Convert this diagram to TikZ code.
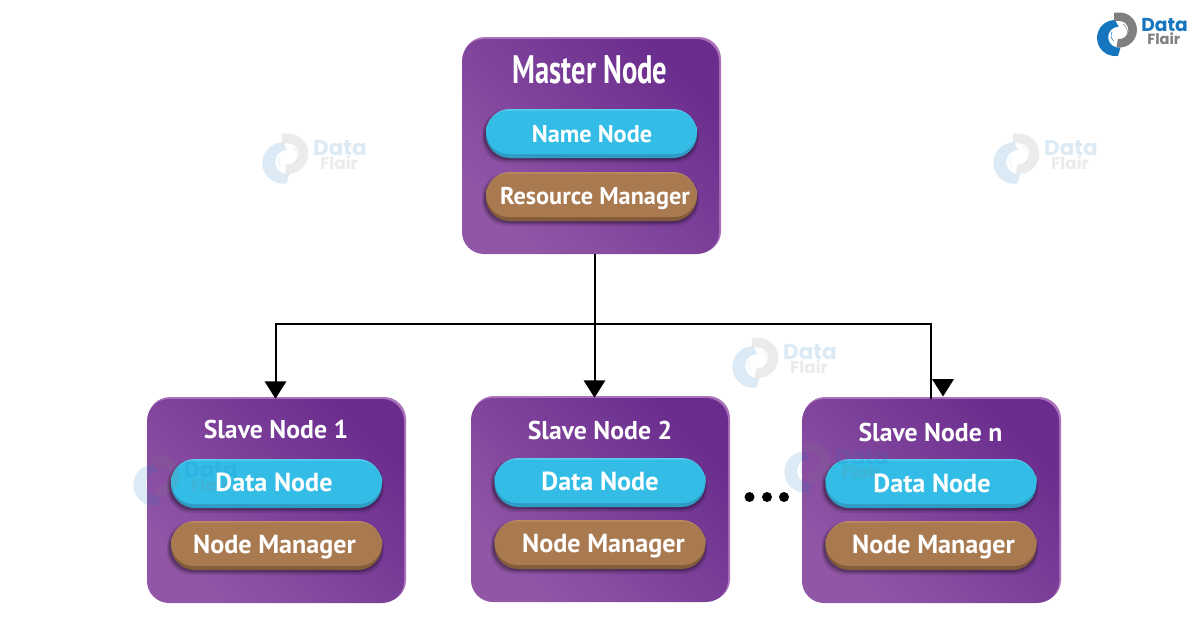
\documentclass[tikz,border=0pt]{standalone}
\usepackage{fontspec}
\setmainfont{PT Sans}
\newfontfamily\titlefont[FakeStretch=0.72]{PT Sans}
\newfontfamily\logofont{Poppins}
\usetikzlibrary{arrows.meta,shapes.misc}
\definecolor{boxlight}{HTML}{9256A7}
\definecolor{boxmid}{HTML}{773895}
\definecolor{boxdark}{HTML}{6A2D8E}
\definecolor{boxedge}{HTML}{AB72BB}
\definecolor{cyanmain}{HTML}{33BDE6}
\definecolor{cyantop}{HTML}{5ACDEE}
\definecolor{cyanbot}{HTML}{2F9CC4}
\definecolor{brownmain}{HTML}{A97950}
\definecolor{browntop}{HTML}{BC8B63}
\definecolor{brownbot}{HTML}{835C3B}
\definecolor{logoblue}{HTML}{1576BE}
\definecolor{logogrey}{HTML}{7F7F7F}
\tikzset{
  purplebox/.style={rounded corners=16.5pt,inner sep=0pt,shading=axis,bottom color=boxlight,middle color=boxmid,top color=boxdark,shading angle=-45},
  pilllabel/.style={inner sep=0pt,text=white,font=\bfseries\fontsize{19.6}{22}\selectfont},
  masterlabel/.style={inner sep=0pt,text=white,font=\bfseries\fontsize{18.2}{21}\selectfont},
  boxtitle/.style={inner sep=0pt,text=white,font=\bfseries\fontsize{19.3}{22}\selectfont},
  link/.style={draw=black,line width=1.5pt},
  linkhead/.style={link,-{Triangle[length=13pt,width=16pt]}},
  dotmark/.style={circle,fill=black,inner sep=0pt,minimum size=7.5pt},
  logo/.pic={
    \begin{scope}[x=0.75pt,y=0.75pt]
      \fill[logoblue] (0,18) arc[start angle=90,end angle=280,radius=18] -- (5.5,-9.5) arc[start angle=280,end angle=90,radius=10.5] -- cycle;
      \fill[logogrey] (-1,25.5) -- (4.5,25.5) arc[start angle=90,end angle=-100,radius=17.5] -- (2.94,-0.86) arc[start angle=-100,end angle=90,radius=9] -- (-1,17) -- cycle;
      \draw[logoblue,line width=0.4pt] (-3,6) arc[start angle=150,end angle=230,radius=7];
      \draw[logogrey,line width=0.4pt] (8,14) arc[start angle=60,end angle=-50,radius=9];
      \node[transform shape,anchor=base west,inner sep=0pt,text=logoblue,font=\logofont\bfseries\fontsize{14}{15}\selectfont] at (26,6.5) {Data};
      \node[transform shape,anchor=base west,inner sep=0pt,text=logogrey,font=\logofont\bfseries\fontsize{11}{12}\selectfont] at (32,-6) {Flair};
    \end{scope}
  },
}
\newcommand\boxback[4]{%
  \fill[boxedge,rounded corners=16.5pt] ({#1+1},#2) rectangle ++({#3-1},{#4-1});
}
\newcommand\pillback[5]{% x0,y0,main,top,bottom ; size 211x49
  \begin{scope}
    \fill[black,opacity=.10,rounded corners=18pt] ({#1-4},{#2+1}) rectangle ++(217,53);
    \fill[black,opacity=.14,rounded corners=18pt] ({#1-3},{#2+2}) rectangle ++(215,50);
    \fill[black,opacity=.18,rounded corners=18pt] ({#1-2},{#2+3}) rectangle ++(213,48);
    \fill[#5,rounded corners=18pt] (#1,{#2+1}) rectangle ++(211,48);
    \fill[#4,rounded corners=18pt] (#1,#2) rectangle ++(211,40);
    \fill[#3,rounded corners=17pt] (#1,{#2+1.5}) rectangle ++(211,43.5);
  \end{scope}
}
\begin{document}
\begin{tikzpicture}[x=0.75pt,y=-0.75pt]
\useasboundingbox (0,0) rectangle (1200,628);
\fill[white] (0,0) rectangle (1200,628);

% watermarks on paper
\begin{scope}[opacity=.15]
  \pic[scale=1.15] at (283,163) {logo};
  \pic[scale=1.15] at (1014,163) {logo};
  \pic[scale=1.15] at (753,367) {logo};
\end{scope}

% boxes
\boxback{462}{37}{259}{217}
\boxback{147}{397}{259}{206}
\boxback{471}{396}{259}{206}
\boxback{802}{397}{259}{206}
\node[purplebox,minimum width=192.75pt,minimum height=161.25pt] (master) at (590.5,146.5) {};
\node[purplebox,minimum width=192.75pt,minimum height=153pt] (slaveone) at (275.5,501) {};
\node[purplebox,minimum width=192.75pt,minimum height=153pt] (slavetwo) at (599.5,500) {};
\node[purplebox,minimum width=192.75pt,minimum height=153pt] (slaven) at (930.5,501) {};

% pills
\pillback{486}{109}{cyanmain}{cyantop}{cyanbot}
\pillback{486}{172}{brownmain}{browntop}{brownbot}
\pillback{171}{459}{cyanmain}{cyantop}{cyanbot}
\pillback{171}{521}{brownmain}{browntop}{brownbot}
\pillback{494.5}{458}{cyanmain}{cyantop}{cyanbot}
\pillback{494.5}{520}{brownmain}{browntop}{brownbot}
\pillback{825.5}{459}{cyanmain}{cyantop}{cyanbot}
\pillback{825.5}{521}{brownmain}{browntop}{brownbot}

% watermarks over the slave boxes
\begin{scope}[opacity=.15]
  \pic[scale=1.15] at (154,485) {logo};
  \pic[scale=1.15] at (805,472) {logo};
\end{scope}

% titles
\node[inner sep=0pt,text=white,font=\titlefont\bfseries\fontsize{29.8}{34}\selectfont] (mastertitle) at (590,70) {Master Node};
\node[boxtitle] (titleone) at (276,429.5) {Slave Node 1};
\node[boxtitle] (titletwo) at (600,430.5) {Slave Node 2};
\node[boxtitle] (titlen) at (930.5,432.5) {Slave Node n};

% pill labels
\node[masterlabel] (namenode) at (592,134.5) {Name Node};
\node[masterlabel] (resman) at (595,198) {Resource Manager};
\node[pilllabel] (dataone) at (274,482.5) {Data Node};
\node[pilllabel] (nodeone) at (274.5,547) {Node Manager};
\node[pilllabel] (datatwo) at (600,481.5) {Data Node};
\node[pilllabel] (nodetwo) at (603.5,546) {Node Manager};
\node[pilllabel] (datan) at (932,483.5) {Data Node};
\node[pilllabel] (noden) at (933.5,547) {Node Manager};

% ellipsis
\node[dotmark] (dota) at (749.5,497) {};
\node[dotmark] (dotb) at (767,497) {};
\node[dotmark] (dotc) at (784,497) {};

% connectors
\coordinate (bus) at (594.5,323.5);
\coordinate (headtop) at (943,379);
\coordinate (headend) at (943,396.5);
\draw[link] (bus |- master.south) -- (bus);
\draw[linkhead] (bus) -| (slaveone.north);
\draw[linkhead] (bus) -- (bus |- slavetwo.north);
\draw[link] (bus) -| (slaven.north);
\draw[linkhead] (headtop) -- (headend);

% corner logo
\pic at (1115,38) {logo};
\end{tikzpicture}
\end{document}
